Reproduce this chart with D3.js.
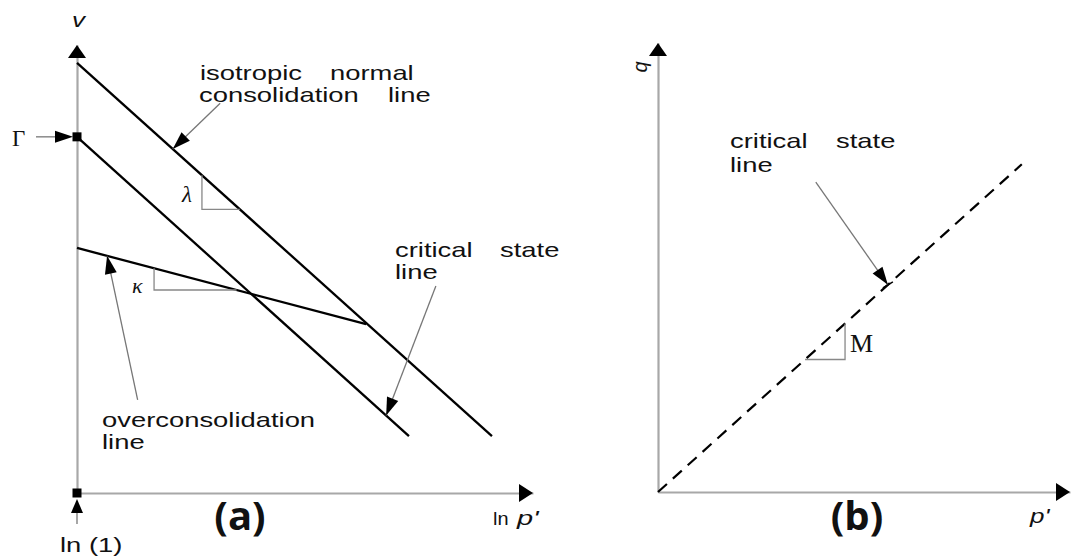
<!DOCTYPE html>
<html>
<head>
<meta charset="utf-8">
<script src="https://cdn.jsdelivr.net/npm/d3@7"></script>
<style>
  body { margin: 0; background: #fff; }
  text { font-family: "Liberation Sans", Arial, sans-serif; fill: #111; }
</style>
</head>
<body>
<svg id="chart" width="1072" height="559"></svg>
<script>
// panel (a): v against ln p', arbitrary units 0..10 on both axes
const nclPts = [[0, 9.6], [9.1, 1.27]];
const cslPts = [[0, 7.95], [7.28, 1.27]];
const oclPts = [[0, 5.47], [6.34, 3.77]];
const lambdaTri = [2.74, 3.57];
const kappaTri = [1.69, 3.5];

// panel (b): q against p'
const cslQ = [[0, 0], [8.83, 7.3]];
const mTri = [3.57, 4.54];

const sx = 1.37; // the figure text is stretched sideways

const svg = d3.select("#chart");

const xA = d3.scaleLinear().domain([0, 10]).range([77, 533]);
const yA = d3.scaleLinear().domain([0, 10]).range([493, 45]);
const xB = d3.scaleLinear().domain([0, 10]).range([658, 1070]);
const yB = d3.scaleLinear().domain([0, 10]).range([492, 43]);

function at(pts, x) {
  const [a, b] = pts;
  return a[1] + (b[1] - a[1]) * (x - a[0]) / (b[0] - a[0]);
}

function head(tip, from, len, hw) {
  const dx = tip[0] - from[0], dy = tip[1] - from[1];
  const d = Math.hypot(dx, dy), ux = dx / d, uy = dy / d;
  const bx = tip[0] - ux * len, by = tip[1] - uy * len;
  return `M${tip[0]},${tip[1]}L${bx - uy * hw},${by + ux * hw}L${bx + uy * hw},${by - ux * hw}Z`;
}

function pointer(tail, tip) {
  svg.append("line")
    .attr("x1", tail[0]).attr("y1", tail[1])
    .attr("x2", tip[0]).attr("y2", tip[1])
    .attr("stroke", "#777").attr("stroke-width", 1.3);
  svg.append("path").attr("d", head(tip, tail, 18, 6)).attr("fill", "#000");
}

function label(x, y, str, opts = {}) {
  const t = svg.append("text")
    .attr("transform", `translate(${x},${y}) scale(${opts.sx || sx},1)`)
    .attr("font-size", opts.size || 20)
    .text(str);
  if (opts.family) t.style("font-family", opts.family);
  if (opts.italic) t.attr("font-style", "italic");
  if (opts.bold) t.attr("font-weight", "bold");
  if (opts.anchor) t.attr("text-anchor", opts.anchor);
  return t;
}

function axes(x, y) {
  svg.append("g")
    .attr("transform", `translate(0,${y(0)})`)
    .call(d3.axisBottom(x).ticks(0).tickSizeOuter(0))
    .call(g => g.select(".domain").attr("stroke", "#a8a8a8").attr("stroke-width", 2.2));
  svg.append("g")
    .attr("transform", `translate(${x(0)},0)`)
    .call(d3.axisLeft(y).ticks(0).tickSizeOuter(0))
    .call(g => g.select(".domain").attr("stroke", "#a8a8a8").attr("stroke-width", 2.2));
  const xe = x.range()[1], ye = y.range()[1];
  svg.append("path").attr("d", head([xe, y(0)], [xe - 20, y(0)], 14, 9)).attr("fill", "#000");
  svg.append("path").attr("d", head([x(0), ye], [x(0), ye + 20], 13, 9)).attr("fill", "#000");
}

const line = d3.line();

// ---------- (a) ----------
axes(xA, yA);

[nclPts, cslPts, oclPts].forEach(p => {
  svg.append("path")
    .attr("d", line(p.map(d => [xA(d[0]), yA(d[1])])))
    .attr("fill", "none").attr("stroke", "#000").attr("stroke-width", 2.3);
});

// falling lines: drop down first, rising line: run across first
function slopeTri(pts, t, xs, ys) {
  const [x1, x2] = t;
  const y1 = at(pts, x1), y2 = at(pts, x2);
  const corner = y2 < y1 ? [x1, y2] : [x2, y1];
  svg.append("path")
    .attr("d", line([[x1, y1], corner, [x2, y2]].map(d => [xs(d[0]), ys(d[1])])))
    .attr("fill", "none").attr("stroke", "#888").attr("stroke-width", 1.3);
}
slopeTri(nclPts, lambdaTri, xA, yA);
slopeTri(oclPts, kappaTri, xA, yA);

// Gamma marker
const gy = yA(cslPts[0][1]);
svg.append("rect").attr("x", xA(0) - 4.5).attr("y", gy - 4.5).attr("width", 9).attr("height", 9).attr("fill", "#000");
svg.append("line").attr("x1", 36).attr("y1", gy).attr("x2", 58).attr("y2", gy).attr("stroke", "#777").attr("stroke-width", 1.3);
svg.append("path").attr("d", head([73, gy], [36, gy], 18, 6)).attr("fill", "#000");
label(12, gy + 9, "\u0393", { family: "'Liberation Serif', serif", size: 23, sx: 1 });

// ln(1) marker
svg.append("rect").attr("x", xA(0) - 4.5).attr("y", yA(0) - 4.5).attr("width", 9).attr("height", 9).attr("fill", "#000");
svg.append("line").attr("x1", xA(0)).attr("y1", 524).attr("x2", xA(0)).attr("y2", 510).attr("stroke", "#777").attr("stroke-width", 1.3);
svg.append("path").attr("d", head([xA(0), 499], [xA(0), 524], 14, 6)).attr("fill", "#000");
label(60, 552, "ln (1)");

// annotation pointers
pointer([xA(3.14), yA(8.7)], [xA(2.1), yA(at(nclPts, 2.1))]);
pointer([xA(7.87), yA(4.62)], [xA(6.78), yA(at(cslPts, 6.78))]);
pointer([xA(1.33), yA(2.08)], [xA(0.66), yA(at(oclPts, 0.66))]);

label(72, 27, "v", { italic: true, size: 20, sx: 1.3 });
label(200, 80, "isotropic");
label(330, 80, "normal");
label(199, 102, "consolidation");
label(388, 102, "line");
label(395, 257, "critical");
label(500, 257, "state");
label(395, 279, "line");
label(102, 427, "overconsolidation");
label(102, 449, "line");
label(182, 202, "\u03bb", { family: "'Liberation Serif', serif", italic: true, size: 23, sx: 1 });
label(132, 293, "\u03ba", { family: "'Liberation Serif', serif", italic: true, size: 22, sx: 1 });
label(493, 525, "ln", { size: 19, sx: 1.05 });
label(517, 525, "p'", { size: 20, italic: true, sx: 1.45 });
label(240, 530, "(a)", { family: "'Open Sans', sans-serif", bold: true, size: 40, sx: 1, anchor: "middle" });

// ---------- (b) ----------
axes(xB, yB);

svg.append("path")
  .attr("d", line(cslQ.map(d => [xB(d[0]), yB(d[1])])))
  .attr("fill", "none").attr("stroke", "#000").attr("stroke-width", 2.2)
  .attr("stroke-dasharray", "12,8");

slopeTri(cslQ, mTri, xB, yB);
label(850, 352, "M", { family: "'Liberation Serif', serif", size: 26, sx: 1 });

const tipB = [xB(5.58), yB(at(cslQ, 5.58))];
pointer([xB(3.83), yB(6.9)], tipB);
svg.append("line")
  .attr("x1", tipB[0] - 5).attr("y1", tipB[1] + 3)
  .attr("x2", tipB[0] + 5).attr("y2", tipB[1] - 3)
  .attr("stroke", "#000").attr("stroke-width", 1.5);

label(730, 148, "critical");
label(836, 148, "state");
label(730, 172, "line");
label(1030, 523, "p'", { size: 20, italic: true, sx: 1.3 });
label(857, 530, "(b)", { family: "'Open Sans', sans-serif", bold: true, size: 40, sx: 1, anchor: "middle" });

svg.append("text")
  .attr("transform", "translate(647,67) rotate(-90)")
  .attr("font-size", 20).attr("font-style", "italic")
  .attr("text-anchor", "middle")
  .text("q");
</script>
</body>
</html>
